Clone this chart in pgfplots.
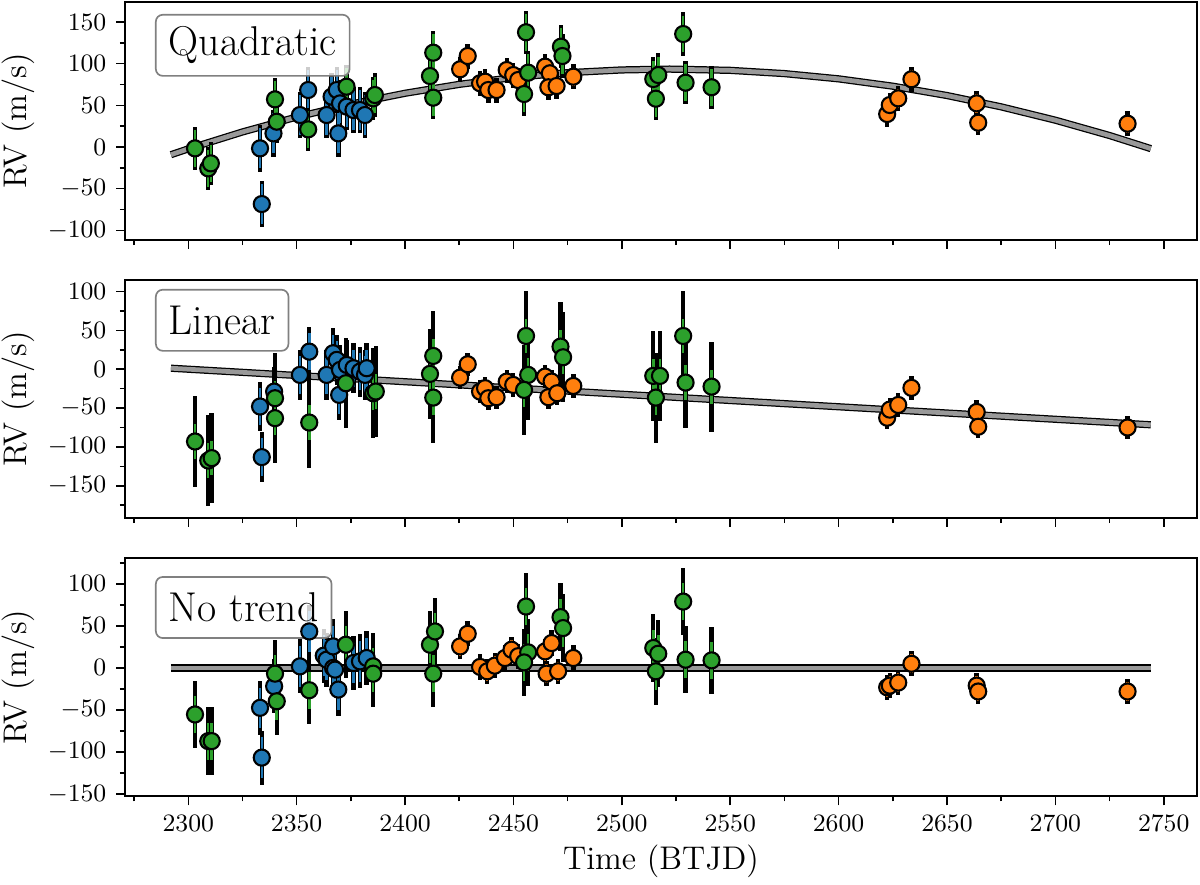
\documentclass[border=0pt]{standalone}
\usepackage{pgfplots}
\usepackage{pgfplotstable}
\pgfplotsset{compat=1.18}
\definecolor{c0}{HTML}{1F77B4}
\definecolor{c1}{HTML}{FF7F0E}
\definecolor{c2}{HTML}{2CA02C}

% ---------- model curves ----------
\pgfplotstableread{
x y
2292 -9.2
2300 -2.2
2325 18.1
2350 36.0
2375 51.5
2400 64.5
2425 75.2
2450 83.4
2475 89.2
2500 92.5
2522 93.5
2550 92.0
2575 88.1
2600 81.8
2625 73.0
2650 61.8
2675 48.2
2700 32.2
2725 13.8
2744 -1.9
}\modQuad
\pgfplotstableread{
x y
2292 1.3
2744 -71.5
}\modLin
\pgfplotstableread{
x y
2292 0
2744 0
}\modFlat

% ---------- panel 1 (quadratic) ----------
\pgfplotstableread{
x y
2333.1 -1.6
2333.9 -68.4
2339.3 16.4
2351.5 38.4
2355.3 68.4
2363.8 38.4
2366.1 60.4
2368.5 68.4
2369.2 16.4
2370.0 52.4
2373.1 48.4
2376.2 44.4
2379.2 44.4
2381.5 38.4
}\pAb
\pgfplotstableread{
x y
2425.4 93.3
2428.9 109.2
2434.6 76.5
2436.9 78.4
2438.4 68.4
2442.2 68.4
2446.9 92.4
2449.9 86.4
2452.2 80.4
2464.6 96.4
2466.8 88.5
2466.1 71.7
2469.9 73.2
2477.6 84.4
2622.4 39.6
2623.6 50.4
2627.5 58.4
2633.6 81.3
2663.7 52.4
2664.4 29.2
2733.3 28.0
}\pAo
\pgfplotstableread{
x y
2303.1 -1.6
2309.2 -25.6
2310.4 -19.6
2340.0 57.2
2340.8 30.4
2355.3 21.2
2373.0 72.4
2385.3 58.4
2386.1 62.4
2411.5 85.2
2413.0 113.2
2413.0 59.2
2455.8 137.7
2456.8 89.2
2454.9 63.6
2471.9 120.4
2472.6 109.2
2514.5 81.6
2516.8 86.4
2515.7 58.0
2528.3 135.6
2529.4 77.2
2541.4 71.7
}\pAg

% ---------- panel 2 (linear) ----------
\pgfplotstableread{
x y
2333.1 -48.0
2333.9 -113.1
2339.6 -28.8
2351.5 -7.3
2355.8 22.6
2363.8 -7.3
2366.8 20.6
2368.5 12.0
2369.6 -33.0
2370.0 -0.9
2373.1 5.5
2376.2 1.3
2379.2 -3.1
2381.5 -7.3
2382.3 1.3
}\pBb
\pgfplotstableread{
x y
2425.4 -10.8
2428.9 6.4
2434.6 -28.8
2436.9 -24.4
2438.4 -37.3
2442.2 -36.0
2446.9 -15.9
2449.9 -20.2
2464.6 -9.5
2467.6 -15.9
2466.1 -36.0
2470.2 -30.9
2477.6 -21.5
2622.4 -62.4
2623.6 -52.0
2627.5 -46.0
2633.6 -24.0
2663.7 -55.0
2664.4 -74.0
2733.3 -75.0
}\pBo
\pgfplotstableread{
x y
2303.1 -93.0
2309.2 -117.5
2310.8 -114.4
2340.0 -37.3
2340.0 -63.0
2355.8 -68.6
2372.7 -18.0
2385.3 -30.9
2386.5 -28.7
2411.5 -6.0
2413.0 17.1
2413.0 -36.5
2455.8 42.8
2456.8 -7.3
2454.9 -26.6
2471.7 29.1
2472.9 15.4
2514.5 -8.6
2517.6 -8.6
2515.7 -36.5
2528.3 42.8
2529.4 -17.2
2541.4 -22.4
}\pBg

% ---------- panel 3 (no trend) ----------
\pgfplotstableread{
x y
2333.1 -47.4
2333.9 -106.6
2339.6 -21.8
2351.5 1.9
2355.8 43.4
2362.5 14.6
2363.8 9.8
2366.8 25.6
2366.8 0.0
2367.7 -2.0
2369.2 -25.7
2376.2 5.9
2379.2 7.8
2382.3 11.8
}\pCb
\pgfplotstableread{
x y
2425.4 25.6
2428.9 40.6
2434.6 1.2
2437.9 -4.0
2441.4 2.7
2446.1 11.8
2449.1 21.7
2452.2 14.0
2464.6 19.7
2467.6 29.6
2465.3 -6.8
2470.6 -4.0
2477.6 11.8
2622.4 -23.0
2623.6 -21.0
2627.5 -17.4
2633.6 5.0
2663.7 -21.0
2664.4 -28.0
2733.3 -28.0
}\pCo
\pgfplotstableread{
x y
2303.1 -55.3
2309.2 -87.0
2310.8 -87.0
2340.0 -6.8
2340.8 -39.6
2355.8 -26.5
2372.7 27.6
2385.3 1.9
2385.3 -6.8
2411.5 27.6
2413.8 43.4
2413.0 -6.8
2455.8 73.0
2456.8 18.5
2454.9 6.6
2471.7 60.4
2472.9 47.4
2514.5 23.7
2516.8 16.9
2515.7 -4.0
2528.3 78.9
2529.4 9.8
2541.4 9.0
}\pCg

\pgfplotsset{
  rvaxis/.style={
    scale only axis, width=385.9pt, height=85.7pt,
    anchor=north west,
    xmin=2270.8, xmax=2765.3,
    xtick={2300,2350,...,2750},
    minor xtick={2275,2325,...,2775},
    tick align=outside, xtick pos=bottom, ytick pos=left,
    major tick length=3.2pt, minor tick length=1.8pt,
    every tick/.append style={black, line width=0.55pt},
    axis line style={line width=0.7pt},
    tick label style={font=\fontsize{9.4}{11}\selectfont},
    /pgf/number format/1000 sep={},
    ylabel={RV (m/s)},
    ylabel style={font=\fontsize{11.8}{14}\selectfont, at={(axis description cs:-0.0998,0.5)}, anchor=center},
  },
  band/.style={black, line width=2.6pt, forget plot},
  bandin/.style={gray!80, line width=1.7pt, forget plot},
  blackbar/.style={only marks, mark=none, error bars/.cd, y dir=both, y fixed=#1, error mark=none, error bar style={black, line width=1.6pt}},
  colbar/.style 2 args={only marks, mark=none, error bars/.cd, y dir=both, y fixed=#2, error mark=none, error bar style={#1, line width=0.9pt}},
  pts/.style={only marks, mark=*, mark size=2.9pt, mark options={fill=#1, draw=black, line width=0.75pt}},
}
\tikzset{
  modelbox/.style={anchor=north west, draw=gray, line width=0.6pt, rounded corners=2.5pt, fill=white, fill opacity=0.8, text opacity=1, inner xsep=4.7pt, inner ysep=0pt, minimum height=22pt, font=\fontsize{15}{18}\selectfont},
}

\begin{document}
\begin{tikzpicture}
\useasboundingbox (0,0) rectangle (432pt,-318.6pt);

% ---------------- Panel 1 ----------------
\begin{axis}[rvaxis, at={(45pt,-0.72pt)},
  ymin=-111.6, ymax=174,
  ytick={-100,-50,...,150}, minor ytick={-125,-75,...,175},
  xticklabels={}]
\addplot[band] table {\modQuad};
\addplot[bandin] table {\modQuad};
\addplot[blackbar=28] table {\pAb};
\addplot[colbar={c0}{24}] table {\pAb};
\addplot[pts=c0] table {\pAb};
\addplot[blackbar=15] table {\pAo};
\addplot[colbar={c1}{11}] table {\pAo};
\addplot[pts=c1] table {\pAo};
\addplot[blackbar=26] table {\pAg};
\addplot[colbar={c2}{22}] table {\pAg};
\addplot[pts=c2] table {\pAg};
\node[modelbox, xshift=10.8pt, yshift=-4.3pt] at (rel axis cs:0,1) {Quadratic};
\end{axis}

% ---------------- Panel 2 ----------------
\begin{axis}[rvaxis, at={(45pt,-100.8pt)},
  ymin=-191.5, ymax=114.8,
  ytick={-150,-100,...,100}, minor ytick={-175,-125,...,125},
  xticklabels={}]
\addplot[band] table {\modLin};
\addplot[bandin] table {\modLin};
\addplot[blackbar=32] table {\pBb};
\addplot[colbar={c0}{24}] table {\pBb};
\addplot[pts=c0] table {\pBb};
\addplot[blackbar=15] table {\pBo};
\addplot[colbar={c1}{11}] table {\pBo};
\addplot[pts=c1] table {\pBo};
\addplot[blackbar=58] table {\pBg};
\addplot[colbar={c2}{22}] table {\pBg};
\addplot[pts=c2] table {\pBg};
\node[modelbox, xshift=10.8pt, yshift=-3.2pt] at (rel axis cs:0,1) {Linear};
\end{axis}

% ---------------- Panel 3 ----------------
\begin{axis}[rvaxis, at={(45pt,-201pt)},
  ymin=-152.7, ymax=130.3,
  ytick={-150,-100,...,100}, minor ytick={-175,-125,...,125},
  xlabel={Time (BTJD)},
  xlabel style={font=\fontsize{11.8}{14}\selectfont, at={(axis description cs:0.5,0)}, anchor=center, yshift=-23.3pt}]
\addplot[band] table {\modFlat};
\addplot[bandin] table {\modFlat};
\addplot[blackbar=32] table {\pCb};
\addplot[colbar={c0}{24}] table {\pCb};
\addplot[pts=c0] table {\pCb};
\addplot[blackbar=15] table {\pCo};
\addplot[colbar={c1}{11}] table {\pCo};
\addplot[pts=c1] table {\pCo};
\addplot[blackbar=40] table {\pCg};
\addplot[colbar={c2}{22}] table {\pCg};
\addplot[pts=c2] table {\pCg};
\node[modelbox, xshift=10.8pt, yshift=-6.4pt] at (rel axis cs:0,1) {No trend};
\end{axis}
\end{tikzpicture}
\end{document}
